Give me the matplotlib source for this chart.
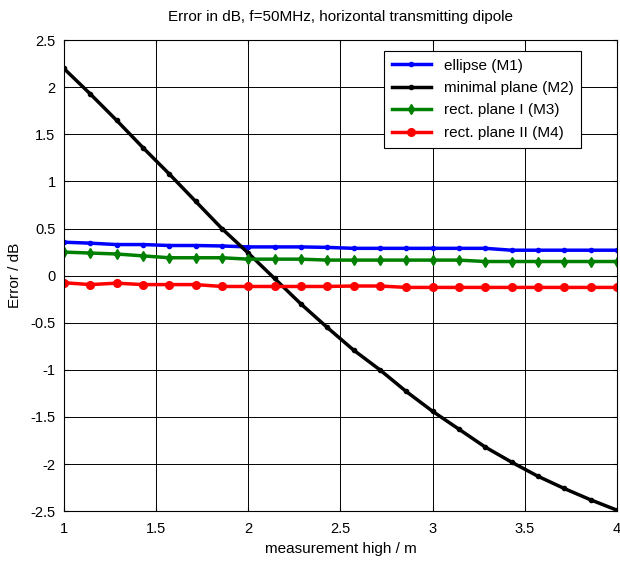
import numpy as np
import matplotlib
matplotlib.use("Agg")
import matplotlib.pyplot as plt

plt.rcParams['font.family'] = ['Liberation Sans', 'DejaVu Sans']

# measurement heights: 22 points from 1 m to 4 m
heights = [1 + k / 7 for k in range(22)]

ellipse_m1 = [0.355, 0.345, 0.33, 0.33, 0.32, 0.32, 0.315, 0.305, 0.305, 0.305, 0.30,
              0.29, 0.29, 0.29, 0.29, 0.29, 0.29, 0.27, 0.27, 0.27, 0.27, 0.27]
minimal_m2 = [2.2, 1.93, 1.65, 1.36, 1.08, 0.79, 0.5, 0.24, -0.03, -0.3, -0.55,
              -0.79, -1.0, -1.23, -1.44, -1.63, -1.82, -1.98, -2.13, -2.26, -2.38, -2.49]
rect1_m3 = [0.25, 0.24, 0.23, 0.21, 0.19, 0.19, 0.19, 0.175, 0.175, 0.175, 0.165,
            0.165, 0.165, 0.165, 0.165, 0.165, 0.15, 0.15, 0.15, 0.15, 0.15, 0.15]
rect2_m4 = [-0.075, -0.095, -0.08, -0.095, -0.095, -0.095, -0.115, -0.115, -0.115, -0.115, -0.115,
            -0.11, -0.11, -0.125, -0.125, -0.125, -0.125, -0.125, -0.125, -0.125, -0.125, -0.125]

labels = ["ellipse (M1)", "minimal plane (M2)", "rect. plane I (M3)", "rect. plane II (M4)"]

fig = plt.figure(figsize=(6.2, 5.66), dpi=100)
ax = fig.add_axes([0.103, 0.097, 0.892, 0.832])

ax.plot(heights, ellipse_m1, color='#0000ff', lw=2.5, marker='.', ms=6, label=labels[0])
ax.plot(heights, minimal_m2, color='black', lw=2.5, marker='.', ms=6, label=labels[1])
ax.plot(heights, rect1_m3, color='#008000', lw=2.5, marker='d', ms=5.5, label=labels[2])
ax.plot(heights, rect2_m4, color='#ff0000', lw=2.5, marker='o', ms=5.5, label=labels[3])

ax.set_xlim(1, 4)
ax.set_ylim(-2.5, 2.5)
ax.set_xticks(np.arange(1, 4.01, 0.5))
ax.set_xticklabels(['1', '1.5', '2', '2.5', '3', '3.5', '4'])
ax.set_yticks(np.arange(-2.5, 2.51, 0.5))
ax.set_yticklabels(['-2.5', '-2', '-1.5', '-1', '-0.5', '0', '0.5', '1', '1.5', '2', '2.5'])
ax.grid(True, color='black', lw=0.7)
ax.tick_params(direction='in', labelsize=10.5, length=3, top=True, right=True)
ax.tick_params(axis='x', pad=8)
ax.tick_params(axis='y', pad=6)
for s in ax.spines.values():
    s.set_linewidth(0.8)

ax.set_title("Error in dB, f=50MHz, horizontal transmitting dipole", fontsize=11, pad=14)
ax.set_xlabel("measurement high / m", fontsize=11, labelpad=4)
ax.set_ylabel("Error / dB", fontsize=11, labelpad=6)

leg = ax.legend(loc='upper right', bbox_to_anchor=(0.935, 0.977), fontsize=11,
                fancybox=False, framealpha=1, edgecolor='black', borderaxespad=0,
                handlelength=2.6, labelspacing=0.55, borderpad=0.5)
leg.get_frame().set_linewidth(0.8)

fig.savefig("out.png", dpi=100)
